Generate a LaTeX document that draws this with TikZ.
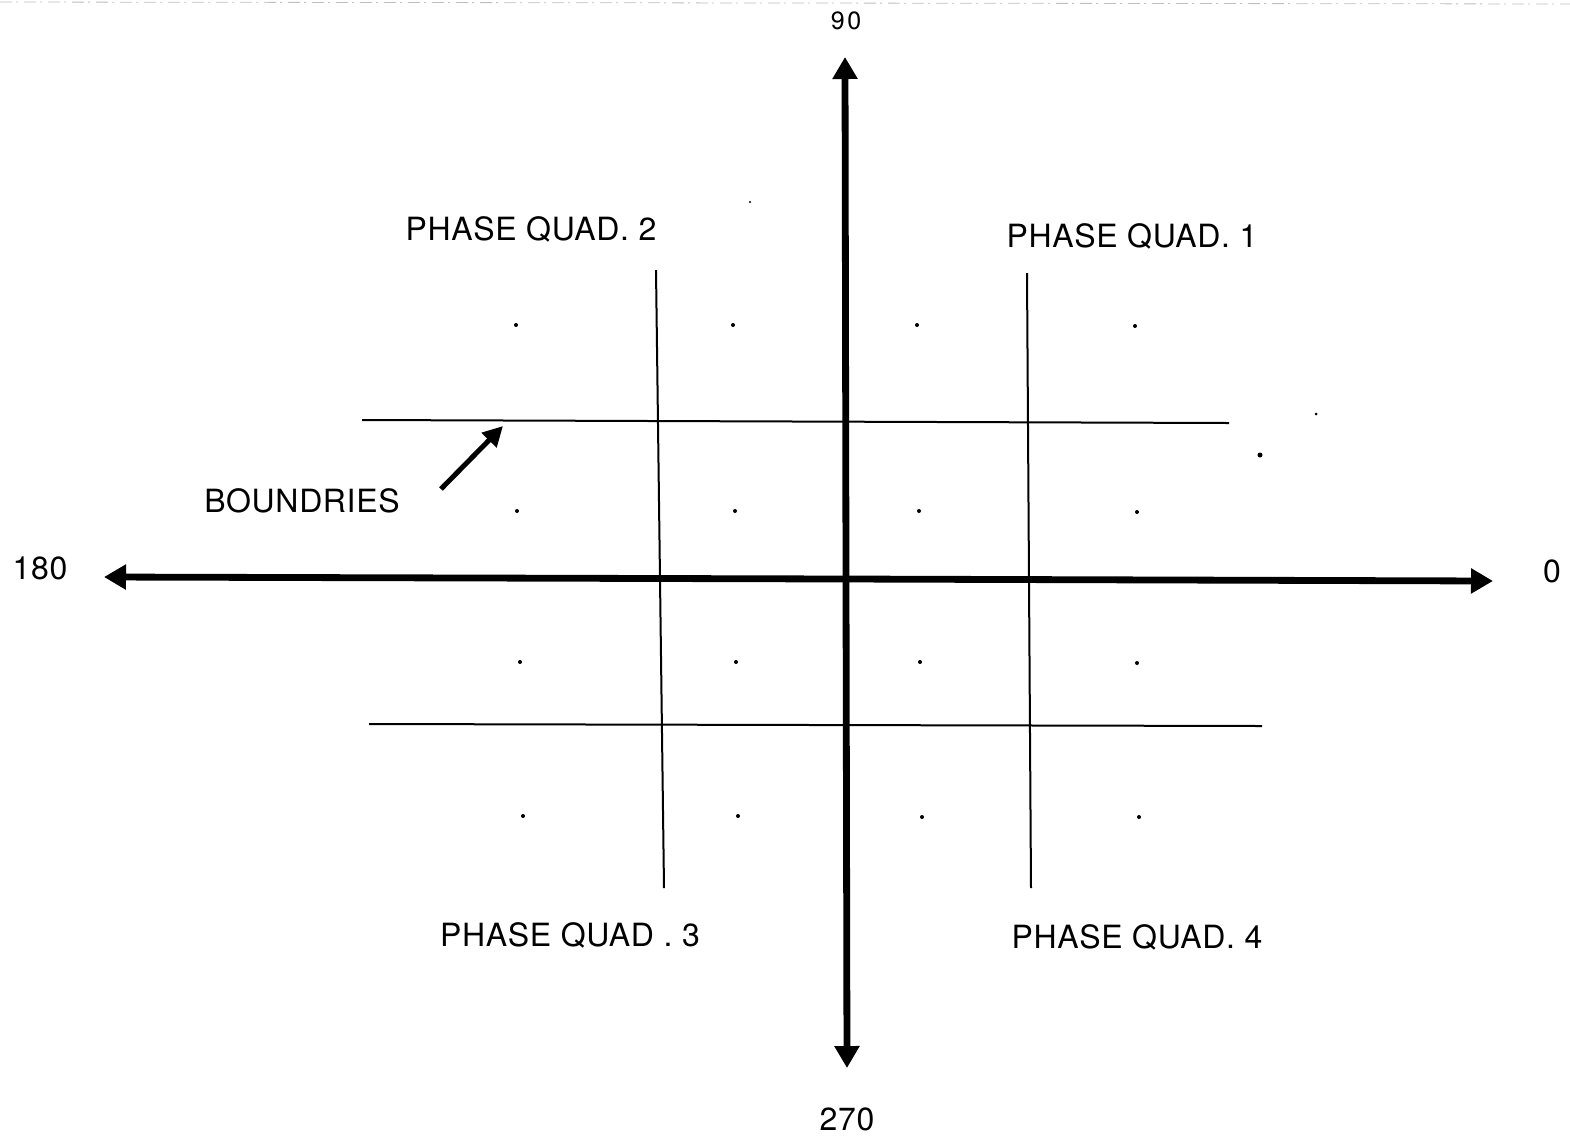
\documentclass[tikz,border=0pt]{standalone}
\usepackage{fontspec}
\setmainfont{TeX Gyre Heros}[LetterSpace=2]
\usetikzlibrary{arrows.meta}
\begin{document}
\begin{tikzpicture}[x=0.5pt,y=-0.5pt,
  axis/.style={line width=3.4pt,-{Triangle[width=12pt,length=11pt]}},
  bound/.style={line width=1pt},
  lbl/.style={font=\fontsize{16}{18}\selectfont,inner sep=0pt},
  dotm/.style={circle,fill=black,inner sep=0pt,minimum size=2pt}]
\useasboundingbox (0,0) rectangle (1570,1137);
% scanner noise at top
\draw[gray!50,line width=0.4pt,dash pattern=on 6pt off 2pt on 1pt off 3pt] (0,2) -- (1570,4);
% axes
\coordinate (c) at (846,579);
\coordinate (top) at (845,57);
\coordinate (bot) at (847,1068);
\coordinate (lft) at (104,577);
\coordinate (rgt) at (1493,581);
\draw[axis] (c) -- (top);
\draw[axis] (c) -- (bot);
\draw[axis] (c) -- (lft);
\draw[axis] (c) -- (rgt);
% axis labels
\node[lbl,font=\fontsize{12.5}{14}\selectfont] (l90) at (846,21) {\addfontfeature{LetterSpace=10}90};
\node[lbl] (l180) at (40,568) {180};
\node[lbl] (l0) at (1552,571) {0};
\node[lbl] (l270) at (847,1119) {270};
% boundaries
\coordinate (v1a) at (656,270); \coordinate (v1b) at (664,888);
\coordinate (v2a) at (1027,273); \coordinate (v2b) at (1031,888);
\coordinate (h1a) at (362,420); \coordinate (h1b) at (1229,423);
\coordinate (h2a) at (369,724); \coordinate (h2b) at (1262,726);
\draw[bound] (v1a) -- (v1b);
\draw[bound] (v2a) -- (v2b);
\draw[bound] (h1a) -- (h1b);
\draw[bound] (h2a) -- (h2b);
% quadrant labels
\node[lbl] (q2) at (531,229) {PHASE QUAD. 2};
\node[lbl] (q1) at (1132,236) {PHASE QUAD. 1};
\node[lbl] (q3) at (570,935) {PHASE QUAD . 3};
\node[lbl] (q4) at (1137,937) {PHASE QUAD. 4};
\node[lbl] (bl) at (302,501) {BOUNDRIES};
\coordinate (ba) at (441,489);
\coordinate (bb) at (503,426);
\draw[line width=2.5pt,-{Triangle[width=10pt,length=10pt]}] (ba) -- (bb);
% constellation points
\foreach \x/\y [count=\i] in {516/325,733/325,917/325,1135/326,
  517/511,735/511,919/511,1137/512,
  520/662,736/662,920/662,1137/663,
  523/816,738/816,922/817,1139/817}
  \node[dotm] (p\i) at (\x,\y) {};
% stray marks
\node[dotm,minimum size=2.5pt] (s1) at (1260,455) {};
\node[dotm,minimum size=1.5pt] (s2) at (1316,414) {};
\node[dotm,minimum size=1.2pt] (s3) at (750,202) {};
\end{tikzpicture}
\end{document}
